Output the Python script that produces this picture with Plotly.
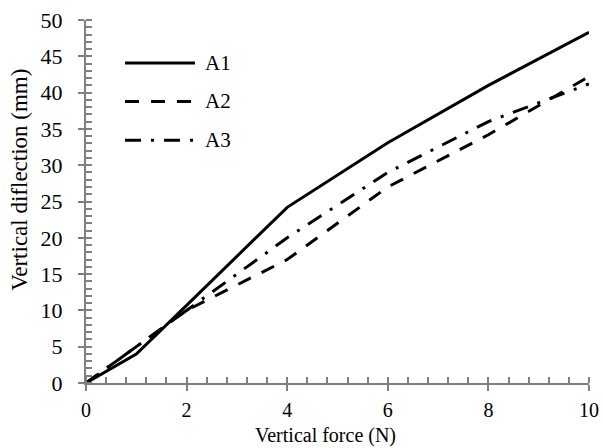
import plotly.graph_objects as go

force = [0, 1, 2, 4, 6, 8, 10]
a1 = [0, 4.0, 10.7, 24.2, 33.1, 41.0, 48.3]
a2 = [0, 5.0, 10.0, 17.0, 27.0, 34.2, 42.2]
a3 = [0, 5.0, 10.0, 20.0, 29.0, 36.0, 41.2]
names = ["A1", "A2", "A3"]
dashes = ["solid", "14px,12px", "16px,10px,3px,10px"]

FONT = "Times New Roman, Liberation Serif, DejaVu Serif, serif"
AX = "#808080"

fig = go.Figure()
for name, ys, d in zip(names, [a1, a2, a3], dashes):
    fig.add_trace(go.Scatter(x=force, y=ys, mode="lines", name=name,
                             line=dict(color="black", width=3, dash=d),
                             showlegend=False, cliponaxis=False))

common = dict(showgrid=False, zeroline=False, showline=True, linecolor=AX, linewidth=2,
              ticks="outside", ticklen=6, tickwidth=2, tickcolor=AX, automargin=False)

fig.update_layout(
    width=603, height=448,
    margin=dict(l=86, r=14, t=20, b=65),
    paper_bgcolor="white", plot_bgcolor="white",
    font=dict(family=FONT, color="black"),
    xaxis=dict(range=[0, 10], tickvals=[0, 2, 4, 6, 8, 10], ticklabelstandoff=2,
               tickfont=dict(family=FONT, size=20, color="black"),
               minor=dict(dtick=0.4, tick0=0, ticks="inside", ticklen=6, tickwidth=2, tickcolor=AX),
               **common),
    yaxis=dict(range=[0, 50], tickvals=list(range(0, 51, 5)), ticklabelstandoff=11,
               tickfont=dict(family=FONT, size=22, color="black"),
               minor=dict(dtick=1, tick0=0, ticks="inside", ticklen=6, tickwidth=2, tickcolor=AX),
               **common),
    xaxis2=dict(overlaying="x", range=[0, 10], tickvals=[0, 2, 4, 6, 8, 10], ticks="inside",
                ticklen=6, tickwidth=2, tickcolor=AX, showticklabels=False, showgrid=False,
                zeroline=False, showline=False, side="bottom", anchor="y", automargin=False),
    yaxis2=dict(overlaying="y", range=[0, 50], tickvals=list(range(0, 51, 5)), ticks="inside",
                ticklen=6, tickwidth=2, tickcolor=AX, showticklabels=False, showgrid=False,
                zeroline=False, showline=False, side="left", anchor="x", automargin=False),
)
# invisible trace to activate overlay axes
fig.add_trace(go.Scatter(x=[None], y=[None], xaxis="x2", yaxis="y2", showlegend=False, hoverinfo="skip"))

# axis titles
fig.add_annotation(text="Vertical force (N)", xref="paper", yref="paper", x=0.477, y=-0.146,
                   xanchor="center", yanchor="middle", showarrow=False,
                   font=dict(family=FONT, size=20, color="black"))
fig.add_annotation(text="Vertical diflection (mm)", xref="paper", yref="paper", x=-0.131, y=0.56,
                   xanchor="center", yanchor="middle", textangle=-90, showarrow=False,
                   font=dict(family=FONT, size=23, color="black"))

# custom legend (layout decoration)
leg_y = [0.8815, 0.7755, 0.669]
for name, d, yy in zip(names, dashes, leg_y):
    fig.add_shape(type="line", xref="paper", yref="paper", x0=0.0775, x1=0.2167, y0=yy, y1=yy,
                  line=dict(color="black", width=3, dash=d))
    fig.add_annotation(text=name, xref="paper", yref="paper", x=0.2326, y=yy, xanchor="left",
                       yanchor="middle", showarrow=False, font=dict(family=FONT, size=21, color="black"))

fig.write_html("out.html", config={"displayModeBar": False},
               post_script="document.body.style.margin='0';document.body.style.overflow='hidden';")
